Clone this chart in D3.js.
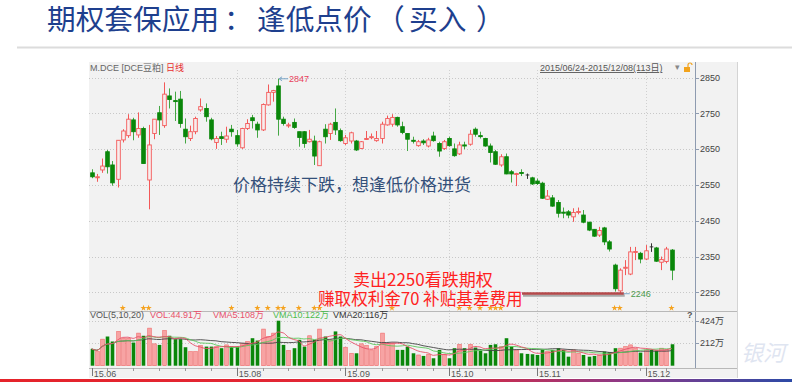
<!DOCTYPE html>
<html>
<head>
<meta charset="utf-8">
<script src="https://cdn.jsdelivr.net/npm/d3@7"></script>
<style>
  html, body { margin: 0; padding: 0; background: #fff; }
  svg { display: block; }
  .cjk { font-family: 'Noto Sans CJK SC', sans-serif; }
  .small { font-family: 'Liberation Sans', 'Noto Sans CJK SC', sans-serif; font-size: 9px; }
</style>
</head>
<body>
<div id="chart"></div>
<script>
// M.DCE 豆粕 daily bars, 2015/06/24 - 2015/12/08 (113 days)
let opens = [2584,2571,2592,2643,2606,2566,2676,2688,2732,2690, 2708,2564,2694,2752,2716,2799,2786,2790,2706,2680,
  2699,2760,2764,2732,2669,2685,2678,2706,2688,2654, 2708,2738,2720,2704,2774,2809,2827,2734,2716,2725,
  2699,2699,2671,2673,2604,2706,2694,2725,2702,2666, 2673,2673,2652,2678,2683,2674,2680,2718,2720,2739,
  2713,2694,2675,2660,2673,2659,2687,2666,2652,2680, 2651,2637,2662,2664,2706,2688,2680,2659,2643,2606,
  2629,2587,2580,2585,2578,2570,2561,2555,2510,2514, 2501,2474,2475,2461,2474,2466,2446,2426,2410,2430,
  2391,2326,2254,2318,2301,2362,2359,2343,2377,2374, 2334,2336,2368]
let highs = [2594,2581,2624,2648,2617,2675,2706,2748,2738,2753, 2713,2718,2734,2771,2837,2820,2811,2813,2736,2716,
  2741,2792,2778,2738,2687,2699,2713,2718,2704,2710, 2734,2746,2727,2778,2831,2816,2847,2741,2724,2736,
  2699,2701,2704,2688,2674,2720,2724,2764,2708,2690, 2699,2676,2673,2701,2694,2701,2727,2744,2748,2741,
  2727,2694,2685,2676,2678,2682,2699,2671,2676,2685, 2666,2671,2671,2704,2711,2699,2682,2666,2648,2636,
  2638,2592,2584,2594,2582,2573,2568,2559,2536,2522, 2508,2487,2480,2485,2487,2480,2447,2427,2433,2433,
  2396,2330,2317,2340,2377,2377,2363,2382,2387,2377, 2350,2377,2371]
let lows = [2569,2559,2584,2582,2548,2543,2669,2682,2675,2682, 2610,2482,2678,2690,2710,2764,2729,2710,2666,2673,
  2692,2755,2727,2675,2651,2662,2668,2685,2657,2651, 2704,2708,2682,2701,2772,2783,2688,2716,2710,2707,
  2657,2654,2669,2606,2604,2666,2676,2690,2671,2662, 2666,2645,2650,2676,2678,2671,2666,2716,2713,2713,
  2692,2645,2666,2657,2662,2655,2671,2629,2648,2657, 2629,2634,2650,2660,2685,2680,2657,2613,2606,2601,
  2580,2557,2547,2575,2567,2550,2550,2511,2508,2489, 2459,2457,2457,2447,2468,2443,2421,2405,2405,2382,
  2364,2252,2246,2298,2298,2340,2331,2340,2363,2335, 2312,2331,2284]
let closes = [2573,2573,2603,2601,2556,2675,2701,2734,2699,2708, 2610,2662,2734,2732,2804,2789,2784,2722,2685,2699,
  2736,2769,2741,2679,2680,2680,2687,2699,2665,2708, 2722,2730,2704,2775,2809,2814,2734,2722,2718,2711,
  2683,2666,2678,2631,2671,2685,2720,2704,2674,2682, 2696,2648,2671,2680,2685,2680,2720,2736,2739,2718,
  2697,2678,2673,2671,2668,2676,2674,2645,2671,2660, 2632,2662,2659,2692,2692,2686,2659,2641,2608,2629,
  2581,2581,2582,2583,2578,2553,2554,2513,2519,2491, 2471,2473,2466,2473,2476,2446,2424,2407,2423,2391,
  2371,2260,2312,2320,2363,2364,2343,2366,2377,2337, 2342,2371,2312]
// volume in 万
let volumes = [158,133,250,275,228,323,259,259,218,307, 282,354,206,196,332,282,250,250,174,133,
  133,190,180,180,180,165,196,180,180,212, 228,259,237,345,275,307,424,196,142,165,
  244,180,282,244,345,275,244,323,275,174, 117,117,206,190,149,180,307,212,212,149,
  149,180,117,101,92,108,70,149,108,70, 165,202,165,202,171,142,117,196,202,180,
  259,180,149,117,111,108,101,149,133,149, 165,149,85,149,117,101,85,92,101,133,
  127,165,165,180,196,165,123,149,149,142, 165,149,202]

let priceTicks = [2250, 2350, 2450, 2550, 2650, 2750, 2850]
let volTicks = [212, 424]
let starDays = [6,10,11,27,32,34,36,37,40,43,44,58,71,73,75,77,78,79,101,102,112]
let holidays = ['2015-09-03','2015-09-04','2015-10-01','2015-10-02','2015-10-05','2015-10-06','2015-10-07']
let startDate = '2015-06-24'
let endDate = '2015-12-08'

let titleParts = [['期权套保应用', 47], ['：', 224], ['逢低点价', 257], ['（', 376], ['买入', 409], ['）', 476]]

let legendItems = [
  {text: 'VOL(5,10,20)', color: '#555', x: 90},
  {text: 'VOL:44.91万', color: '#e8506a', x: 150},
  {text: 'VMA5:108万', color: '#e8506a', x: 213},
  {text: 'VMA10:122万', color: '#4cbb4c', x: 273},
  {text: 'VMA20:116万', color: '#333', x: 333}
]

// trading days (weekends and exchange holidays skipped)
let days = []
let hol = new Set(holidays)
for (let d = new Date(startDate + 'T00:00:00Z'); d <= new Date(endDate + 'T00:00:00Z'); d = new Date(d.getTime() + 864e5)) {
  let wd = d.getUTCDay()
  let iso = d.toISOString().slice(0, 10)
  if (wd !== 0 && wd !== 6 && !hol.has(iso)) days.push(d)
}

let panel = {left: 89, right: 738, top: 62, bottom: 378, axis: 695, divider: 311.5, xAxis: 368}

let svg = d3.select('#chart')
  .append('svg')
  .attr('width', 792)
  .attr('height', 383)

let defs = svg.append('defs')
let grad = defs.append('linearGradient').attr('id', 'bottomLine')
grad.append('stop').attr('offset', '0%').attr('stop-color', '#e5232a')
grad.append('stop').attr('offset', '55%').attr('stop-color', '#e0283a')
grad.append('stop').attr('offset', '80%').attr('stop-color', '#8a3a8a')
grad.append('stop').attr('offset', '100%').attr('stop-color', '#2c4aa6')

// slide title
let title = svg.append('text')
  .attr('class', 'cjk')
  .attr('y', 30)
  .attr('font-size', 28.7)
  .attr('fill', '#1e3f8e')
title.selectAll('tspan')
  .data(titleParts)
  .join('tspan')
  .attr('x', d => d[1])
  .text(d => d[0])

svg.append('line')
  .attr('x1', 17).attr('x2', 792)
  .attr('y1', 47.5).attr('y2', 47.5)
  .attr('stroke', '#dcdcdc')
  .attr('stroke-width', 2)

// chart panel
svg.append('rect')
  .attr('x', panel.left).attr('y', panel.top)
  .attr('width', panel.right - panel.left).attr('height', panel.bottom - panel.top)
  .attr('fill', '#f2f2f2')

let x = d3.scaleLinear().domain([0, days.length - 1]).range([91.7, 671.5])
let y = d3.scaleLinear().domain([2250, 2850]).range([292.3, 77.7])
let yv = d3.scaleLinear().domain([0, 424]).range([365.7, 320.7])

// gridlines
svg.append('g').selectAll('line')
  .data(priceTicks)
  .join('line')
  .attr('x1', panel.left).attr('x2', panel.axis)
  .attr('y1', d => Math.round(y(d)) + 0.5).attr('y2', d => Math.round(y(d)) + 0.5)
  .attr('stroke', '#c8c8c8')
  .attr('stroke-dasharray', '1,2')

svg.append('g').selectAll('line')
  .data(volTicks)
  .join('line')
  .attr('x1', panel.left).attr('x2', panel.axis)
  .attr('y1', d => Math.round(yv(d)) + 0.5).attr('y2', d => Math.round(yv(d)) + 0.5)
  .attr('stroke', '#c8c8c8')
  .attr('stroke-dasharray', '1,2')

// month ticks (skip a month too close to the previous one)
let monthIdx = []
days.forEach(function(d, i) {
  if (i === 0 || d.getUTCMonth() !== days[i - 1].getUTCMonth()) {
    if (!monthIdx.length || i - monthIdx[monthIdx.length - 1] >= 10) monthIdx.push(i)
  }
})
let weekIdx = days.map((d, i) => i).filter(i => i > 0 && (days[i].getUTCDay() <= days[i - 1].getUTCDay() || days[i] - days[i - 1] > 6 * 864e5))

svg.append('g').selectAll('line')
  .data(monthIdx.filter(i => i > 0))
  .join('line')
  .attr('x1', d => Math.round(x(d)) + 0.5).attr('x2', d => Math.round(x(d)) + 0.5)
  .attr('y1', 70).attr('y2', panel.xAxis)
  .attr('stroke', '#d0d0d0')
  .attr('stroke-dasharray', '1,2')

// axis lines
svg.append('line')
  .attr('x1', panel.axis + 0.5).attr('x2', panel.axis + 0.5)
  .attr('y1', panel.top).attr('y2', panel.xAxis)
  .attr('stroke', '#8e9bb0')
svg.append('line')
  .attr('x1', panel.left).attr('x2', panel.right)
  .attr('y1', panel.divider).attr('y2', panel.divider)
  .attr('stroke', '#b8b8b8')
svg.append('line')
  .attr('x1', panel.left).attr('x2', panel.right)
  .attr('y1', panel.xAxis + 0.5).attr('y2', panel.xAxis + 0.5)
  .attr('stroke', '#b8b8b8')
svg.append('line')
  .attr('x1', panel.right - 0.5).attr('x2', panel.right - 0.5)
  .attr('y1', panel.top).attr('y2', panel.bottom)
  .attr('stroke', '#d4d4d4')

// price axis labels
let pAxis = svg.append('g')
pAxis.selectAll('line')
  .data(priceTicks)
  .join('line')
  .attr('x1', panel.axis).attr('x2', panel.axis + 4)
  .attr('y1', d => Math.round(y(d)) + 0.5).attr('y2', d => Math.round(y(d)) + 0.5)
  .attr('stroke', '#8e9bb0')
pAxis.selectAll('text')
  .data(priceTicks)
  .join('text')
  .attr('class', 'small')
  .attr('x', panel.axis + 5)
  .attr('y', d => y(d) + 3.2)
  .attr('fill', '#444')
  .text(d => d)

let vAxis = svg.append('g')
vAxis.selectAll('line')
  .data(volTicks)
  .join('line')
  .attr('x1', panel.axis).attr('x2', panel.axis + 4)
  .attr('y1', d => Math.round(yv(d)) + 0.5).attr('y2', d => Math.round(yv(d)) + 0.5)
  .attr('stroke', '#8e9bb0')
vAxis.selectAll('text')
  .data(volTicks)
  .join('text')
  .attr('class', 'small')
  .attr('x', panel.axis + 5)
  .attr('y', d => yv(d) + 3.2)
  .attr('fill', '#444')
  .text(d => d + '万')

svg.append('text')
  .attr('class', 'small')
  .attr('x', 687).attr('y', 318)
  .attr('font-size', 7).attr('font-weight', 'bold')
  .attr('fill', '#555')
  .text('?')

// date axis
let xAxisG = svg.append('g')
xAxisG.selectAll('line.minor')
  .data(weekIdx.filter(i => monthIdx.indexOf(i) < 0))
  .join('line')
  .attr('class', 'minor')
  .attr('x1', d => Math.round(x(d)) + 0.5).attr('x2', d => Math.round(x(d)) + 0.5)
  .attr('y1', panel.xAxis).attr('y2', panel.xAxis + 3)
  .attr('stroke', '#999')
xAxisG.selectAll('line.major')
  .data(monthIdx)
  .join('line')
  .attr('class', 'major')
  .attr('x1', d => Math.round(x(d)) + 0.5).attr('x2', d => Math.round(x(d)) + 0.5)
  .attr('y1', panel.xAxis).attr('y2', panel.xAxis + 8)
  .attr('stroke', '#777')
xAxisG.selectAll('text')
  .data(monthIdx)
  .join('text')
  .attr('class', 'small')
  .attr('x', d => x(d) + 2)
  .attr('y', 376.5)
  .attr('fill', '#555')
  .text(d => d3.utcFormat('%y.%m')(days[d]))

// header texts
let header = svg.append('text')
  .attr('class', 'small')
  .attr('x', 90).attr('y', 71)
  .attr('font-size', 8.5)
header.append('tspan').attr('fill', '#666').text('M.DCE [DCE豆粕] ')
header.append('tspan').attr('fill', '#e83030').text('日线')

svg.append('text')
  .attr('class', 'small')
  .attr('x', 540).attr('y', 71)
  .attr('font-size', 8.5)
  .attr('fill', '#555')
  .attr('text-decoration', 'underline')
  .text('2015/06/24-2015/12/08(113日)')
svg.append('text')
  .attr('class', 'small')
  .attr('x', 675).attr('y', 70)
  .attr('font-size', 7)
  .attr('fill', '#888')
  .text('▾')
svg.append('rect')
  .attr('x', 684).attr('y', 67).attr('width', 6).attr('height', 5)
  .attr('fill', '#f2a31c')
svg.append('path')
  .attr('d', 'M688,67 v-2 a2,2 0 0 1 4,0')
  .attr('fill', 'none').attr('stroke', '#f2a31c').attr('stroke-width', 1.2)

// candles
let isUp = i => closes[i] > opens[i]
let isFlat = i => closes[i] === opens[i]
let wickColor = i => isFlat(i) ? '#333' : isUp(i) ? '#f35858' : '#44a744'
let bodyW = 3.6

let candles = svg.append('g').selectAll('g')
  .data(days.map((d, i) => i))
  .join('g')

candles.append('line')
  .attr('x1', i => Math.round(x(i)) + 0.5).attr('x2', i => Math.round(x(i)) + 0.5)
  .attr('y1', i => y(highs[i])).attr('y2', i => y(lows[i]))
  .attr('stroke', wickColor)

candles.filter(i => !isFlat(i))
  .append('rect')
  .attr('x', i => Math.round(x(i)) + 0.5 - bodyW / 2)
  .attr('y', i => y(Math.max(opens[i], closes[i])))
  .attr('width', bodyW)
  .attr('height', i => Math.max(1, Math.abs(y(opens[i]) - y(closes[i]))))
  .attr('fill', i => isUp(i) ? '#f7eeee' : '#0a870a')
  .attr('stroke', i => isUp(i) ? '#f35858' : '#0a870a')
  .attr('stroke-width', 0.9)

candles.filter(i => isFlat(i))
  .append('line')
  .attr('x1', i => Math.round(x(i)) + 0.5 - bodyW / 2).attr('x2', i => Math.round(x(i)) + 0.5 + bodyW / 2)
  .attr('y1', i => y(opens[i])).attr('y2', i => y(opens[i]))
  .attr('stroke', '#333')

// high / low markers
let hiIdx = d3.maxIndex(highs)
let loIdx = d3.minIndex(lows)
svg.append('path')
  .attr('d', `M${x(hiIdx) + 1},${y(highs[hiIdx])} l3,-2 M${x(hiIdx) + 1},${y(highs[hiIdx])} l3,2 M${x(hiIdx) + 1},${y(highs[hiIdx])} H${x(hiIdx) + 10}`)
  .attr('stroke', '#7aa6c8').attr('fill', 'none')
svg.append('text')
  .attr('class', 'small')
  .attr('x', x(hiIdx) + 11).attr('y', y(highs[hiIdx]) + 3)
  .attr('font-size', 8.5)
  .attr('fill', '#e8405a')
  .text(highs[hiIdx])

svg.append('path')
  .attr('d', `M${x(loIdx) + 1},${y(lows[loIdx])} H${x(loIdx) + 10}`)
  .attr('stroke', '#7aa6c8').attr('fill', 'none')
svg.append('text')
  .attr('class', 'small')
  .attr('x', x(loIdx) + 11).attr('y', y(lows[loIdx]) + 3)
  .attr('font-size', 8.5)
  .attr('fill', '#4c9a4c')
  .text(lows[loIdx])

// event stars
svg.append('g').selectAll('path')
  .data(starDays)
  .join('path')
  .attr('transform', i => `translate(${x(i)},308)`)
  .attr('d', d3.symbol(d3.symbolStar).size(12))
  .attr('fill', '#f5a21e')

// volume bars
svg.append('g').selectAll('rect')
  .data(days.map((d, i) => i))
  .join('rect')
  .attr('x', i => Math.round(x(i)) + 0.5 - bodyW / 2)
  .attr('y', i => yv(volumes[i]))
  .attr('width', bodyW)
  .attr('height', i => yv(0) - yv(volumes[i]))
  .attr('fill', i => isUp(i) ? '#f7a3a3' : '#0a870a')
  .attr('stroke', i => isUp(i) ? '#f06a6a' : 'none')
  .attr('stroke-width', 0.6)

// volume moving averages
let movingAvg = function(n) {
  return volumes.map((v, i) => d3.mean(volumes.slice(Math.max(0, i - n + 1), i + 1)))
}
let maLine = d3.line().x((d, i) => x(i)).y(d => yv(d)).curve(d3.curveMonotoneX)
let maSpecs = [[20, '#444'], [10, '#5cc85c'], [5, '#e8506a']]
maSpecs.forEach(function(s) {
  svg.append('path')
    .attr('d', maLine(movingAvg(s[0])))
    .attr('fill', 'none')
    .attr('stroke', s[1])
    .attr('stroke-width', 0.9)
})

// volume legend
svg.append('g').selectAll('text')
  .data(legendItems)
  .join('text')
  .attr('class', 'small')
  .attr('font-size', 8.5)
  .attr('x', d => d.x).attr('y', 318)
  .attr('fill', d => d.color)
  .text(d => d.text)

// slide annotations
svg.append('text')
  .attr('class', 'cjk')
  .attr('x', 233).attr('y', 190.5)
  .attr('font-size', 17)
  .attr('fill', '#34507a')
  .text('价格持续下跌，想逢低价格进货')

svg.append('text')
  .attr('class', 'cjk')
  .attr('x', 353).attr('y', 285.5)
  .attr('font-size', 17)
  .attr('fill', '#ff1f1f')
  .text('卖出2250看跌期权')

svg.append('text')
  .attr('class', 'cjk')
  .attr('x', 318).attr('y', 304.5)
  .attr('font-size', 16.6)
  .attr('fill', '#ff1f1f')
  .text('赚取权利金70 补贴基差费用')

svg.append('line')
  .attr('x1', 523).attr('x2', x(loIdx) + 5)
  .attr('y1', 295.5).attr('y2', 295.5)
  .attr('stroke', '#a9a9a9').attr('stroke-width', 2.5)
svg.append('line')
  .attr('x1', 522).attr('x2', x(loIdx) + 4)
  .attr('y1', 293.5).attr('y2', 293.5)
  .attr('stroke', '#b5494a').attr('stroke-width', 2.5)

// watermark and bottom rule
svg.append('text')
  .attr('class', 'cjk')
  .attr('x', 741).attr('y', 361)
  .attr('font-size', 22)
  .attr('font-style', 'italic')
  .attr('fill', '#dfe5f1')
  .text('银河')

svg.append('rect')
  .attr('x', 0).attr('y', 379)
  .attr('width', 792).attr('height', 3)
  .attr('fill', 'url(#bottomLine)')
</script>
</body>
</html>
